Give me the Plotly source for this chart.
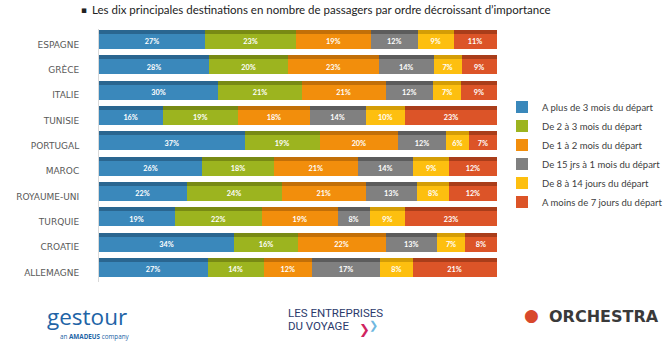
import plotly.graph_objects as go

countries = ["ESPAGNE", "GRÈCE", "ITALIE", "TUNISIE", "PORTUGAL",
             "MAROC", "ROYAUME-UNI", "TURQUIE", "CROATIE", "ALLEMAGNE"]
series_names = ["A plus de 3 mois du départ", "De 2 à 3 mois du départ",
                "De 1 à 2 mois du départ", "De 15 jrs à 1 mois du départ",
                "De 8 à 14 jours du départ", "A moins de 7 jours du départ"]
plus_3_mois = [27, 28, 30, 16, 37, 26, 22, 19, 34, 27]
de_2_a_3_mois = [23, 20, 21, 19, 19, 18, 24, 22, 16, 14]
de_1_a_2_mois = [19, 23, 21, 18, 20, 21, 21, 19, 22, 12]
de_15j_a_1_mois = [12, 14, 12, 14, 12, 14, 13, 8, 13, 17]
de_8_a_14_jours = [9, 7, 7, 10, 6, 9, 8, 9, 7, 8]
moins_7_jours = [11, 9, 9, 23, 7, 12, 12, 23, 8, 21]
series_values = [plus_3_mois, de_2_a_3_mois, de_1_a_2_mois,
                 de_15j_a_1_mois, de_8_a_14_jours, moins_7_jours]

front_colors = ["#3a88bb", "#9cb41f", "#f28e0c", "#808080", "#fdbf0f", "#dc5428"]
top_colors = ["#2a6690", "#788a14", "#c26f08", "#5c5c5c", "#d49d06", "#a93d1a"]

BAR_W = 0.59
TOP_W = 0.16

W, H = 670, 361
ML, MR, MT, MB = 99, 173, 29, 79
PW, PH = W - ML - MR, H - MT - MB


def px(x):
    return (x - ML) / PW


def py(y):
    return (H - MB - y) / PH


fig = go.Figure()
for name, vals, fc in zip(series_names, series_values, front_colors):
    fig.add_trace(go.Bar(
        y=countries, x=vals, name=name, orientation="h",
        marker=dict(color=fc, line=dict(width=0)),
        width=BAR_W,
        text=[f"{v}%" for v in vals], textposition="inside",
        insidetextanchor="middle", textangle=0,
        textfont=dict(color="white", size=9, family="Lato", weight="bold"),
        xaxis="x", yaxis="y",
    ))
for vals, tc in zip(series_values, top_colors):
    fig.add_trace(go.Bar(
        y=countries, x=vals, orientation="h", showlegend=False,
        marker=dict(color=tc, line=dict(width=0)),
        width=TOP_W, offset=BAR_W / 2, hoverinfo="skip",
        xaxis="x2", yaxis="y2",
    ))

cat_order = list(reversed(countries))
fig.update_layout(
    width=W, height=H,
    margin=dict(l=ML, r=MR, t=MT, b=MB, autoexpand=False),
    paper_bgcolor="white", plot_bgcolor="white",
    barmode="stack", barnorm="percent",
    showlegend=True,
    legend=dict(x=px(502), y=py(92.5), xanchor="left", yanchor="top",
                traceorder="normal", font=dict(family="Lato", size=9.5, color="#404040"),
                itemwidth=30, tracegroupgap=0, bgcolor="rgba(0,0,0,0)"),
    xaxis=dict(range=[0, 100], visible=False, fixedrange=True),
    xaxis2=dict(range=[0, 100], visible=False, overlaying="x", matches="x"),
    yaxis=dict(categoryorder="array", categoryarray=cat_order, range=[-0.5, 9.5],
               showline=True, linecolor="#d9d9d9", linewidth=1, showgrid=False,
               ticks="", ticklabelstandoff=17, ticklabelshift=3,
               tickfont=dict(family="DejaVu Sans", size=9, color="#595959")),
    yaxis2=dict(categoryorder="array", categoryarray=cat_order, range=[-0.5, 9.5],
                overlaying="y", visible=False),
)

annotations = [
    dict(x=84, y=10, text="▪", font=dict(size=9, color="#222222", family="DejaVu Sans"), xanchor="center"),
    dict(x=90, y=10, text="Les dix principales destinations en nombre de passagers par ordre décroissant d’importance",
         font=dict(size=11.5, color="#222222", family="Lato"), xanchor="left"),
    dict(x=45, y=316.5, text="gestour", font=dict(size=22.5, color="#2163a6", family="Open Sans"), xanchor="left"),
    dict(x=58, y=336, text="an <b>AMADEUS</b> company", font=dict(size=6.3, color="#2163a6", family="Open Sans"), xanchor="left"),
    dict(x=286, y=312.5, text="LES ENTREPRISES", font=dict(size=11.5, color="#2b3a6b", family="Roboto"), xanchor="left"),
    dict(x=286, y=326, text="DU VOYAGE", font=dict(size=11.5, color="#2b3a6b", family="Roboto"), xanchor="left"),
    dict(x=357, y=330, text="<b>❯</b>", font=dict(size=13, color="#d0245f", family="DejaVu Sans"), xanchor="left"),
    dict(x=367, y=325, text="<b>❯</b>", font=dict(size=11, color="#6fb8e0", family="DejaVu Sans"), xanchor="left"),
    dict(x=531, y=315, text="●", font=dict(size=17, color="#d8482c", family="DejaVu Sans"), xanchor="center"),
    dict(x=547, y=316, text="<b>ORCHESTRA</b>", font=dict(size=16, color="#3a3a3a", family="DejaVu Sans"), xanchor="left"),
]
for a in annotations:
    a.update(dict(xref="paper", yref="paper", showarrow=False))
    a["x"] = px(a["x"])
    a["y"] = py(a["y"])
    a.setdefault("yanchor", "middle")
    fig.add_annotation(**a)

fig.write_html("out.html", config={"displayModeBar": False},
               post_script="document.body.style.margin='0';")
